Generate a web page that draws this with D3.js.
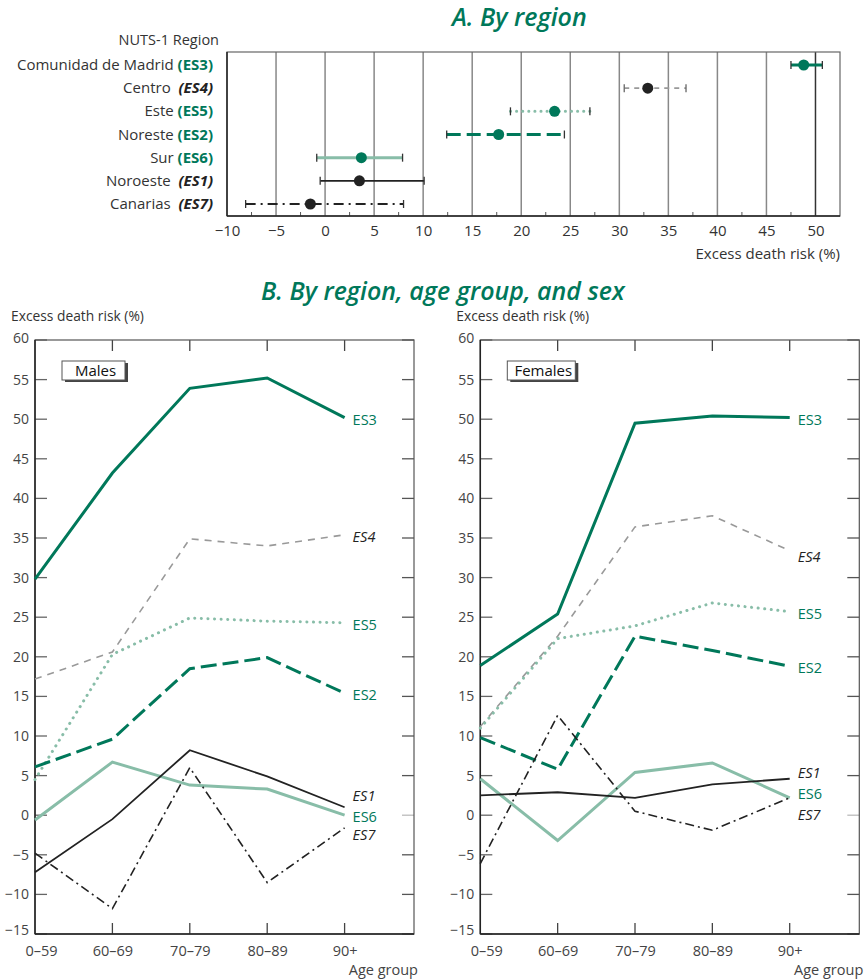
<!DOCTYPE html>
<html>
<head>
<meta charset="utf-8">
<script src="https://cdn.jsdelivr.net/npm/d3@7"></script>
<style>
  body { margin: 0; background: #fff; }
  svg { font-family: "Open Sans", "Noto Sans", sans-serif; }
</style>
</head>
<body>
<div id="chart"></div>
<script>
// ---- data: panel A ----
var regionNames = ["Comunidad de Madrid", "Centro", "Este", "Noreste", "Sur", "Noroeste", "Canarias"];
var regionCodes = ["ES3", "ES4", "ES5", "ES2", "ES6", "ES1", "ES7"];
var regionEst   = [48.8, 32.9, 23.4, 17.7, 3.7, 3.5, -1.5];
var regionLow   = [47.5, 30.5, 18.9, 12.4, -0.85, -0.5, -8.1];
var regionHigh  = [50.7, 36.8, 27.0, 24.4, 7.9, 10.1, 8.0];
var xTicksA = [-10, -5, 0, 5, 10, 15, 20, 25, 30, 35, 40, 45, 50];

// ---- data: panel B ----
var ageGroups = ["0\u201359", "60\u201369", "70\u201379", "80\u201389", "90+"];
var seriesCodes = ["ES3", "ES4", "ES5", "ES2", "ES6", "ES1", "ES7"];
var males = {
  ES3: [29.8, 43.2, 53.9, 55.2, 50.2],
  ES4: [17.2, 20.6, 34.9, 34.0, 35.4],
  ES5: [4.5, 20.3, 24.9, 24.5, 24.3],
  ES2: [6.1, 9.6, 18.5, 19.9, 15.4],
  ES6: [-0.6, 6.7, 3.8, 3.3, 0.0],
  ES1: [-7.2, -0.5, 8.2, 4.9, 1.0],
  ES7: [-4.8, -11.8, 6.0, -8.5, -1.6]
};
var females = {
  ES3: [18.9, 25.4, 49.5, 50.4, 50.2],
  ES4: [11.2, 22.6, 36.4, 37.8, 33.4],
  ES5: [11.0, 22.3, 23.9, 26.8, 25.7],
  ES2: [9.8, 5.8, 22.6, 20.8, 18.8],
  ES6: [4.6, -3.2, 5.4, 6.6, 2.2],
  ES1: [2.5, 2.9, 2.2, 3.9, 4.6],
  ES7: [-6.1, 12.6, 0.5, -1.9, 2.2]
};
var yTicksB = [-15, -10, -5, 0, 5, 10, 15, 20, 25, 30, 35, 40, 45, 50, 55, 60];

// ---- styles ----
var green = "#00785a", light = "#88bda8", gray = "#999", black = "#222";
var style = {
  ES3: {color: green, w: 3,   dash: null,       italic: false, dot: green, labelColor: green},
  ES4: {color: gray,  w: 1.6, dash: "7,6",      italic: true,  dot: black, labelColor: black},
  ES5: {color: light, w: 3,   dash: "0.1,6.5",  italic: false, dot: green, labelColor: green},
  ES2: {color: green, w: 3,   dash: "16,6",     italic: false, dot: green, labelColor: green},
  ES6: {color: light, w: 3,   dash: null,       italic: false, dot: green, labelColor: green},
  ES1: {color: black, w: 1.8, dash: null,       italic: true,  dot: black, labelColor: black},
  ES7: {color: black, w: 1.6, dash: "9,4,2,4",  italic: true,  dot: black, labelColor: black}
};
var styleA = {
  ES3: {w: 3,   dash: null},
  ES4: {w: 1.6, dash: "5,5"},
  ES5: {w: 3,   dash: "0.1,6"},
  ES2: {w: 3,   dash: "14,6"},
  ES6: {w: 3,   dash: null},
  ES1: {w: 1.6, dash: null},
  ES7: {w: 2,   dash: "10,5,2,5"}
};

var svg = d3.select("#chart").append("svg")
    .attr("width", 866)
    .attr("height", 980);

// ================= Panel A =================
var xA = d3.scaleLinear().domain([-10, 52.5]).range([227, 840]);
var yA = d3.scalePoint().domain(regionCodes).range([65, 204]);
var topA = 52, botA = 216;

svg.append("text")
    .attr("x", 452).attr("y", 26)
    .style("font-size", "25px").style("font-style", "italic").style("font-weight", 600)
    .style("fill", green)
    .text("A. By region");

svg.append("text")
    .attr("x", 219).attr("y", 45)
    .attr("text-anchor", "end")
    .style("font-size", "14.5px").style("fill", "#333")
    .text("NUTS-1 Region");

// gridlines
svg.append("g").selectAll("line")
    .data(xTicksA.slice(1))
  .enter().append("line")
    .attr("x1", function(d) { return xA(d); })
    .attr("x2", function(d) { return xA(d); })
    .attr("y1", topA).attr("y2", botA)
    .attr("stroke", function(d) { return d == 50 ? "#333" : "#888"; })
    .attr("stroke-width", 1.5);

// minor ticks
svg.append("g").selectAll("line")
    .data(d3.range(-7.5, 52.5, 5))
  .enter().append("line")
    .attr("x1", function(d) { return xA(d); })
    .attr("x2", function(d) { return xA(d); })
    .attr("y1", botA).attr("y2", botA - 4)
    .attr("stroke", "#555");

// frame
svg.append("rect")
    .attr("x", xA(-10)).attr("y", topA)
    .attr("width", xA(52.5) - xA(-10)).attr("height", botA - topA)
    .attr("fill", "none").attr("stroke", "#666").attr("stroke-width", 1.2);
svg.append("line")
    .attr("x1", xA(-10)).attr("x2", xA(52.5)).attr("y1", botA).attr("y2", botA)
    .attr("stroke", "#222").attr("stroke-width", 1.5);
svg.append("line")
    .attr("x1", xA(-10)).attr("x2", xA(-10)).attr("y1", topA).attr("y2", botA)
    .attr("stroke", "#222").attr("stroke-width", 1.5);

// x axis labels
svg.append("g")
    .attr("transform", "translate(0," + botA + ")")
    .call(d3.axisBottom(xA).tickValues(xTicksA).tickSize(0).tickPadding(9)
      .tickFormat(function(d) { return d < 0 ? "\u2212" + Math.abs(d) : d; }))
    .call(function(g) { g.select(".domain").remove(); })
    .selectAll("text")
    .style("font-size", "15px").style("fill", "#333")
    .style("font-family", "'Open Sans', 'Noto Sans', sans-serif");

svg.append("text")
    .attr("x", 840).attr("y", 259)
    .attr("text-anchor", "end")
    .style("font-size", "15px").style("fill", "#333")
    .text("Excess death risk (%)");

// row labels
var rowLab = svg.append("g").selectAll("text")
    .data(regionCodes)
  .enter().append("text")
    .attr("x", 213)
    .attr("y", function(d) { return yA(d) + 5; })
    .attr("text-anchor", "end")
    .style("font-size", "15px").style("fill", "#333");
rowLab.append("tspan")
    .text(function(d, i) { return regionNames[i] + (style[d].italic ? "  " : " "); })
    .attr("xml:space", "preserve");
rowLab.append("tspan")
    .style("font-weight", 700)
    .style("font-style", function(d) { return style[d].italic ? "italic" : "normal"; })
    .style("fill", function(d) { return style[d].labelColor; })
    .text(function(d) { return "(" + d + ")"; });

// error bars
var bars = svg.append("g").selectAll("g")
    .data(regionCodes)
  .enter().append("g");
bars.append("line")
    .attr("x1", function(d, i) { return xA(regionLow[i]); })
    .attr("x2", function(d, i) { return xA(regionHigh[i]); })
    .attr("y1", function(d) { return yA(d); })
    .attr("y2", function(d) { return yA(d); })
    .attr("stroke", function(d) { return d == "ES4" ? gray : style[d].color; })
    .attr("stroke-width", function(d) { return styleA[d].w; })
    .attr("stroke-dasharray", function(d) { return styleA[d].dash; })
    .attr("stroke-linecap", function(d) { return d == "ES5" ? "round" : "butt"; });
bars.selectAll(".cap")
    .data(function(d, i) { return [{c: d, v: regionLow[i]}, {c: d, v: regionHigh[i]}]; })
  .enter().append("line")
    .attr("class", "cap")
    .attr("x1", function(d) { return xA(d.v); })
    .attr("x2", function(d) { return xA(d.v); })
    .attr("y1", function(d) { return yA(d.c) - 4; })
    .attr("y2", function(d) { return yA(d.c) + 4; })
    .attr("stroke", function(d) { return d.c == "ES4" ? "#666" : "#333"; })
    .attr("stroke-width", 1.3);
bars.append("circle")
    .attr("cx", function(d, i) { return xA(regionEst[i]); })
    .attr("cy", function(d) { return yA(d); })
    .attr("r", 5.5)
    .attr("fill", function(d) { return style[d].dot; });

// ================= Panel B =================
svg.append("text")
    .attr("x", 261).attr("y", 300)
    .style("font-size", "25px").style("font-style", "italic").style("font-weight", 600)
    .style("fill", green)
    .text("B. By region, age group, and sex");

// label offsets (px) so end labels don't collide
var labelNudge = {
  Males:   {ES3: 1, ES4: 1, ES5: 1, ES2: 1, ES6: 1, ES1: -12, ES7: 6},
  Females: {ES3: 1, ES4: 5, ES5: 1, ES2: 1, ES6: -5, ES1: -7, ES7: 16}
};

function drawPanel(name, data, left, step, right) {
  var x = d3.scaleLinear().domain([0, 4]).range([left, left + 4 * step]);
  var y = d3.scaleLinear().domain([-15, 60]).range([934, 340]);
  var g = svg.append("g");

  g.append("text")
      .attr("x", left - 24).attr("y", 321)
      .style("font-size", "13.8px").style("fill", "#333")
      .text("Excess death risk (%)");

  // y ticks, left & right inward
  g.append("g").selectAll("line")
      .data(yTicksB)
    .enter().append("line")
      .attr("x1", left).attr("x2", left + 12)
      .attr("y1", function(d) { return y(d); }).attr("y2", function(d) { return y(d); })
      .attr("stroke", "#666").attr("stroke-width", 1.3);
  g.append("g").selectAll("line")
      .data(yTicksB)
    .enter().append("line")
      .attr("x1", right - 12).attr("x2", right)
      .attr("y1", function(d) { return y(d); }).attr("y2", function(d) { return y(d); })
      .attr("stroke", function(d) { return d == 0 ? "#bbb" : "#555"; }).attr("stroke-width", 1.3);

  // x ticks top & bottom
  g.append("g").selectAll("line")
      .data(d3.range(1, 5))
    .enter().append("line")
      .attr("x1", function(d) { return x(d); }).attr("x2", function(d) { return x(d); })
      .attr("y1", 340).attr("y2", 351)
      .attr("stroke", "#444").attr("stroke-width", 1.3);
  g.append("g").selectAll("line")
      .data(d3.range(1, 5))
    .enter().append("line")
      .attr("x1", function(d) { return x(d); }).attr("x2", function(d) { return x(d); })
      .attr("y1", 934).attr("y2", 923)
      .attr("stroke", "#444").attr("stroke-width", 1.3);

  g.append("rect")
      .attr("x", left).attr("y", 340)
      .attr("width", right - left).attr("height", 594)
      .attr("fill", "none").attr("stroke", "#555").attr("stroke-width", 1.2);
  g.append("line")
      .attr("x1", left).attr("x2", right).attr("y1", 934).attr("y2", 934)
      .attr("stroke", "#222").attr("stroke-width", 1.5);
  g.append("line")
      .attr("x1", left).attr("x2", left).attr("y1", 340).attr("y2", 934)
      .attr("stroke", "#222").attr("stroke-width", 1.5);

  // y tick labels
  g.append("g")
      .attr("transform", "translate(" + left + ",0)")
      .call(d3.axisLeft(y).tickValues(yTicksB).tickSize(0).tickPadding(6)
        .tickFormat(function(d) { return d < 0 ? "\u2212" + Math.abs(d) : d; }))
      .call(function(a) { a.select(".domain").remove(); })
      .selectAll("text")
      .attr("dy", function(d) { return d == 60 ? "0.2em" : (d == -15 ? "0em" : "0.32em"); })
      .style("font-size", "14px").style("fill", "#444")
      .style("font-family", "'Open Sans', 'Noto Sans', sans-serif");

  // x tick labels
  g.append("g")
      .attr("transform", "translate(0,934)")
      .call(d3.axisBottom(x).tickValues(d3.range(5)).tickSize(0).tickPadding(12)
        .tickFormat(function(d) { return ageGroups[d]; }))
      .call(function(a) { a.select(".domain").remove(); })
      .selectAll("text")
      .attr("dx", function(d) { return d == 0 ? 6 : 0; })
      .style("font-size", "14.5px").style("fill", "#444")
      .style("font-family", "'Open Sans', 'Noto Sans', sans-serif");

  g.append("text")
      .attr("x", right + 4).attr("y", 975)
      .attr("text-anchor", "end")
      .style("font-size", "14.5px").style("fill", "#444")
      .text("Age group");

  // legend box
  var bw = name == "Males" ? 63 : 68;
  g.append("rect")
      .attr("x", left + 30).attr("y", 363)
      .attr("width", bw).attr("height", 19)
      .attr("fill", "#444");
  g.append("rect")
      .attr("x", left + 27).attr("y", 361)
      .attr("width", bw).attr("height", 19)
      .attr("fill", "#fff").attr("stroke", "#555").attr("stroke-width", 1);
  g.append("text")
      .attr("x", left + 27 + bw / 2 + 2).attr("y", 376)
      .attr("text-anchor", "middle")
      .style("font-size", "15px").style("fill", "#111")
      .text(name);

  var line = d3.line()
      .x(function(d, i) { return x(i); })
      .y(function(d) { return y(d); });

  // draw in back-to-front order
  var order = ["ES4", "ES5", "ES6", "ES2", "ES1", "ES7", "ES3"];
  g.append("g").selectAll("path")
      .data(order)
    .enter().append("path")
      .attr("d", function(d) { return line(data[d]); })
      .attr("fill", "none")
      .attr("stroke", function(d) { return style[d].color; })
      .attr("stroke-width", function(d) { return style[d].w; })
      .attr("stroke-dasharray", function(d) { return style[d].dash; })
      .attr("stroke-linecap", function(d) { return d == "ES5" ? "round" : "butt"; })
      .attr("stroke-linejoin", "miter");

  g.append("g").selectAll("text")
      .data(seriesCodes)
    .enter().append("text")
      .attr("x", x(4) + 8)
      .attr("y", function(d) { return y(data[d][4]) + 6 + labelNudge[name][d]; })
      .style("font-size", "14.5px")
      .style("font-style", function(d) { return style[d].italic ? "italic" : "normal"; })
      .style("fill", function(d) { return style[d].labelColor; })
      .text(function(d) { return d; });
}

drawPanel("Males", males, 35, 77.4, 414);
drawPanel("Females", females, 480.3, 77.35, 859.3);
</script>
</body>
</html>
